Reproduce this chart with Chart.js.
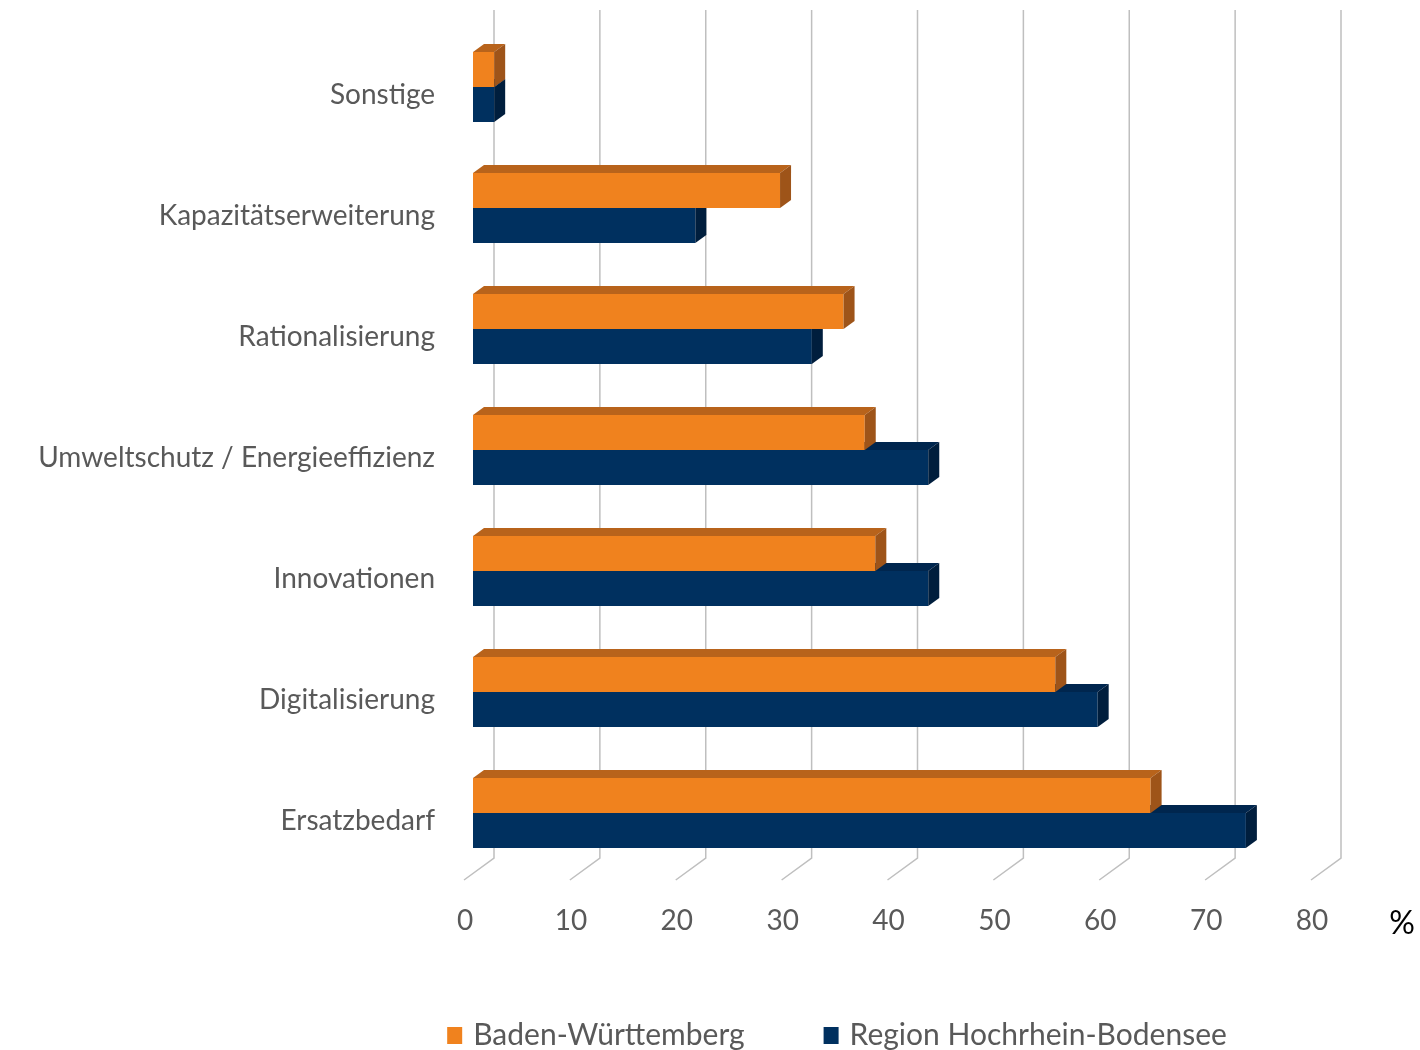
<!DOCTYPE html>
<html>
<head>
<meta charset="utf-8">
<script src="https://cdn.jsdelivr.net/npm/chart.js@4.4.0/dist/chart.umd.min.js"></script>
<style>
  html, body { margin: 0; padding: 0; background: #fff; overflow: hidden; }
</style>
</head>
<body>
<canvas id="chart" width="1420" height="1050"></canvas>
<script>
// data, top to bottom as in the picture
const categories = ['Sonstige', 'Kapazitätserweiterung', 'Rationalisierung',
  'Umweltschutz / Energieeffizienz', 'Innovationen', 'Digitalisierung', 'Ersatzbedarf'];
const badenWuerttemberg = [2, 29, 35, 37, 38, 55, 64];
const hochrheinBodensee = [2, 21, 32, 43, 43, 59, 73];
const xTicks = [0, 10, 20, 30, 40, 50, 60, 70, 80];
const seriesNames = ['Baden-Württemberg', 'Region Hochrhein-Bodensee'];
const unitLabel = '%';

const FONT = 'Lato, "Open Sans", sans-serif';
const TEXT = '#595959';
const orange = { front: '#F0821E', top: '#B8631B', side: '#9E5419' };
const blue = { front: '#00305F', top: '#00264E', side: '#001E3D' };
const faces = [orange, blue];
const depth = { dx: 11, dy: -8 };

function poly(ctx, pts, color) {
  ctx.beginPath();
  ctx.moveTo(pts[0][0], pts[0][1]);
  for (let i = 1; i < pts.length; i++) ctx.lineTo(pts[i][0], pts[i][1]);
  ctx.closePath();
  ctx.fillStyle = color;
  ctx.fill();
}

function noPad(s) {
  s.paddingTop = 0; s.paddingBottom = 0; s.paddingLeft = 0; s.paddingRight = 0;
}

// back wall grid + floor ticks
const wallGrid = {
  id: 'wallGrid',
  beforeDatasetsDraw(chart) {
    const ctx = chart.ctx;
    const xs = chart.scales.x;
    const bottom = chart.chartArea.bottom;
    ctx.save();
    ctx.strokeStyle = '#BFBFBF';
    ctx.lineWidth = 1.5;
    xTicks.forEach(v => {
      const px = xs.getPixelForValue(v);
      ctx.beginPath();
      ctx.moveTo(px + 21, 10);
      ctx.lineTo(px + 21, bottom - 15.5);
      ctx.lineTo(px - 9, bottom + 6.5);
      ctx.stroke();
    });
    ctx.restore();
  }
};

// top and side faces of each bar
const bars3d = {
  id: 'bars3d',
  afterDatasetDraw(chart, args) {
    const ctx = chart.ctx;
    const c = faces[args.index];
    ctx.save();
    args.meta.data.forEach(el => {
      const p = el.getProps(['x', 'y', 'base', 'height'], true);
      const t = p.y - p.height / 2, b = p.y + p.height / 2;
      poly(ctx, [[p.base, t], [p.x, t], [p.x + depth.dx, t + depth.dy], [p.base + depth.dx, t + depth.dy]], c.top);
      poly(ctx, [[p.x, t], [p.x + depth.dx, t + depth.dy], [p.x + depth.dx, b + depth.dy], [p.x, b]], c.side);
    });
    ctx.restore();
  }
};

// legend and unit
const extras = {
  id: 'extras',
  afterDraw(chart) {
    const ctx = chart.ctx;
    ctx.save();
    ctx.font = '30px ' + FONT;
    ctx.textBaseline = 'middle';
    const w0 = ctx.measureText(seriesNames[0]).width;
    const w1 = ctx.measureText(seriesNames[1]).width;
    const total = 15 + 11 + w0 + 79 + 15 + 11 + w1;
    let x = 837 - total / 2;
    const y = 1035;
    seriesNames.forEach((name, i) => {
      ctx.fillStyle = faces[i].front;
      ctx.fillRect(x, y - 8, 15, 17);
      ctx.fillStyle = TEXT;
      ctx.fillText(name, x + 26, y);
      x += 26 + (i === 0 ? w0 : w1) + 79;
    });
    ctx.fillStyle = '#000';
    ctx.font = '32px ' + FONT;
    ctx.textAlign = 'center';
    ctx.fillText(unitLabel, chart.scales.x.getPixelForValue(80) + 82, 924);
    ctx.restore();
  }
};

new Chart(document.getElementById('chart'), {
  type: 'bar',
  data: {
    labels: categories,
    datasets: [
      { label: seriesNames[0], data: badenWuerttemberg, backgroundColor: orange.front },
      { label: seriesNames[1], data: hochrheinBodensee, backgroundColor: blue.front }
    ]
  },
  options: {
    indexAxis: 'y',
    responsive: false,
    devicePixelRatio: 1,
    animation: false,
    layout: { padding: { left: 0, right: 100, top: 26.5, bottom: 0 } },
    datasets: { bar: { barPercentage: 1, categoryPercentage: 0.578 } },
    plugins: { legend: { display: false }, tooltip: { enabled: false } },
    scales: {
      y: {
        grid: { display: false, drawTicks: false },
        border: { display: false },
        ticks: { color: TEXT, font: { family: FONT, size: 28 }, padding: 38, labelOffset: 8 },
        afterFit: s => { s.width = 473; noPad(s); }
      },
      x: {
        min: 0, max: 80,
        grid: { display: false, drawTicks: false },
        border: { display: false },
        afterBuildTicks: s => { s.ticks = xTicks.map(v => ({ value: v })); },
        ticks: { color: TEXT, font: { family: FONT, size: 28 }, padding: 31, labelOffset: -8 },
        afterFit: s => { s.height = 176.5; noPad(s); }
      }
    }
  },
  plugins: [wallGrid, bars3d, extras]
});
</script>
</body>
</html>
